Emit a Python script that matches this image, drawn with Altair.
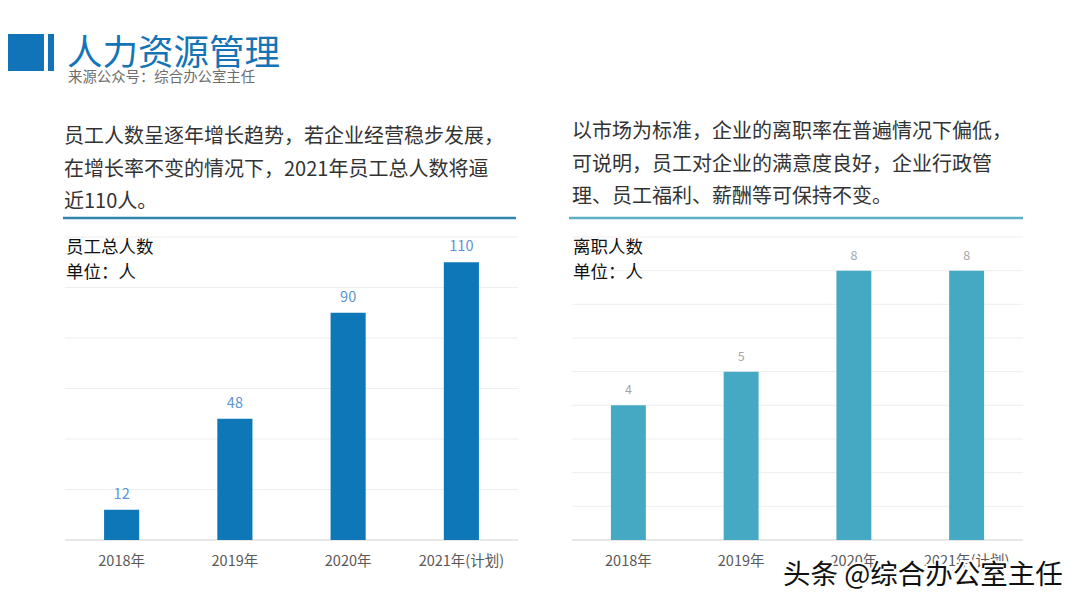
import altair as alt
import pandas as pd

FONT = "Noto Sans CJK SC"

# ---------------- data ----------------
years = ["2018年", "2019年", "2020年", "2021年(计划)"]
staff_total = [12, 48, 90, 110]
leavers = [4, 5, 8, 8]
staff_ticks = [0, 20, 40, 60, 80, 100, 120]
leaver_ticks = [0, 1, 2, 3, 4, 5, 6, 7, 8, 9]

title_text = "人力资源管理"
source_text = "来源公众号：综合办公室主任"
left_para = [
    "员工人数呈逐年增长趋势，若企业经营稳步发展，",
    "在增长率不变的情况下，2021年员工总人数将逼",
    "近110人。",
]
right_para = [
    "以市场为标准，企业的离职率在普遍情况下偏低，",
    "可说明，员工对企业的满意度良好，企业行政管",
    "理、员工福利、薪酬等可保持不变。",
]
left_label = ["员工总人数", "单位：人"]
right_label = ["离职人数", "单位：人"]
watermark = "头条 @综合办公室主任"

one = pd.DataFrame({"k": [0]})


def txt(text, x, y, size, color, **kw):
    return alt.Chart(one).mark_text(
        text=text, font=FONT, fontSize=size, color=color, align="left",
        baseline="middle", **kw
    ).encode(x=alt.value(x), y=alt.value(y))


# ---------------- header ----------------
header = [
    alt.Chart(one).mark_rect(color="#1174B8").encode(
        x=alt.value(0), x2=alt.value(36), y=alt.value(26), y2=alt.value(63)),
    alt.Chart(one).mark_rect(color="#1174B8").encode(
        x=alt.value(40), x2=alt.value(46), y=alt.value(26), y2=alt.value(63)),
    txt(title_text, 59, 46, 35.5, "#1474B6"),
    txt(source_text, 60, 69.5, 14.4, "#6E6E6E"),
    txt(left_para, 56, 129, 20, "#333333", lineHeight=32.5),
    txt(right_para, 564, 124, 20, "#333333", lineHeight=32.5),
    alt.Chart(one).mark_rule(color="#2F86AC", strokeWidth=2.5).encode(
        x=alt.value(55), x2=alt.value(508), y=alt.value(210)),
    alt.Chart(one).mark_rule(color="#5BB0C4", strokeWidth=2.5).encode(
        x=alt.value(561), x2=alt.value(1015), y=alt.value(210)),
]

Y_BOTTOM, Y_TOP = 532, 229


# ---------------- bar panels ----------------
def panel(values, ticks, ymax, x0, x1, bar_color, lab_color, lab_size,
          label_lines):
    df = pd.DataFrame({"year": years, "v": values})
    tdf = pd.DataFrame({"t": ticks})
    yscale = alt.Scale(domain=[0, ymax], range=[Y_BOTTOM, Y_TOP], nice=False)
    xscale = alt.Scale(range=[x0, x1], paddingInner=0.69, paddingOuter=0.345)
    xenc = alt.X("year:N", sort=years, scale=xscale, axis=None)
    grid = alt.Chart(tdf).mark_rule(color="#EEEEEE", strokeWidth=1).encode(
        y=alt.Y("t:Q", scale=yscale, axis=None),
        x=alt.value(x0), x2=alt.value(x1))
    base_line = alt.Chart(tdf.head(1)).mark_rule(
        color="#D9D9D9", strokeWidth=1).encode(
        y=alt.Y("t:Q", scale=yscale, axis=None),
        x=alt.value(x0), x2=alt.value(x1))
    bars = alt.Chart(df).mark_bar(color=bar_color).encode(
        x=xenc, y=alt.Y("v:Q", scale=yscale, axis=None))
    labels = alt.Chart(df).mark_text(
        font=FONT, fontSize=lab_size, color=lab_color, baseline="bottom",
        dy=-8).encode(
        x=xenc, y=alt.Y("v:Q", scale=yscale, axis=None), text="v:Q")
    xlabels = alt.Chart(df).mark_text(
        font=FONT, fontSize=14.5, color="#595959", baseline="middle").encode(
        x=xenc, y=alt.value(Y_BOTTOM + 22), text="year:N")
    cap = txt(label_lines, x0 + 1, 240, 17.5, "#111111", lineHeight=25)
    return alt.layer(grid, base_line, bars, labels, xlabels, cap)


left = panel(staff_total, staff_ticks, 120, 57, 510, "#0E77B8", "#5B93D3",
             14.5, left_label)
right = panel(leavers, leaver_ticks, 9, 564, 1015, "#45A9C4", "#A6A6A6",
              12.5, right_label)

wm_halo = txt(watermark, 775, 568, 27.5, "#000000", stroke="#FFFFFF",
              strokeWidth=4)
wm_text = txt(watermark, 775, 568, 27.5, "#111111")

chart = alt.layer(*header, left, right, wm_halo, wm_text).resolve_scale(
    x="independent", y="independent"
).properties(
    width=1064, height=592, padding=0, background="#FFFFFF",
    autosize=alt.AutoSizeParams(type="none")
).configure_view(stroke=None)

chart.save("out.html", embed_options={"renderer": "svg", "actions": False})
